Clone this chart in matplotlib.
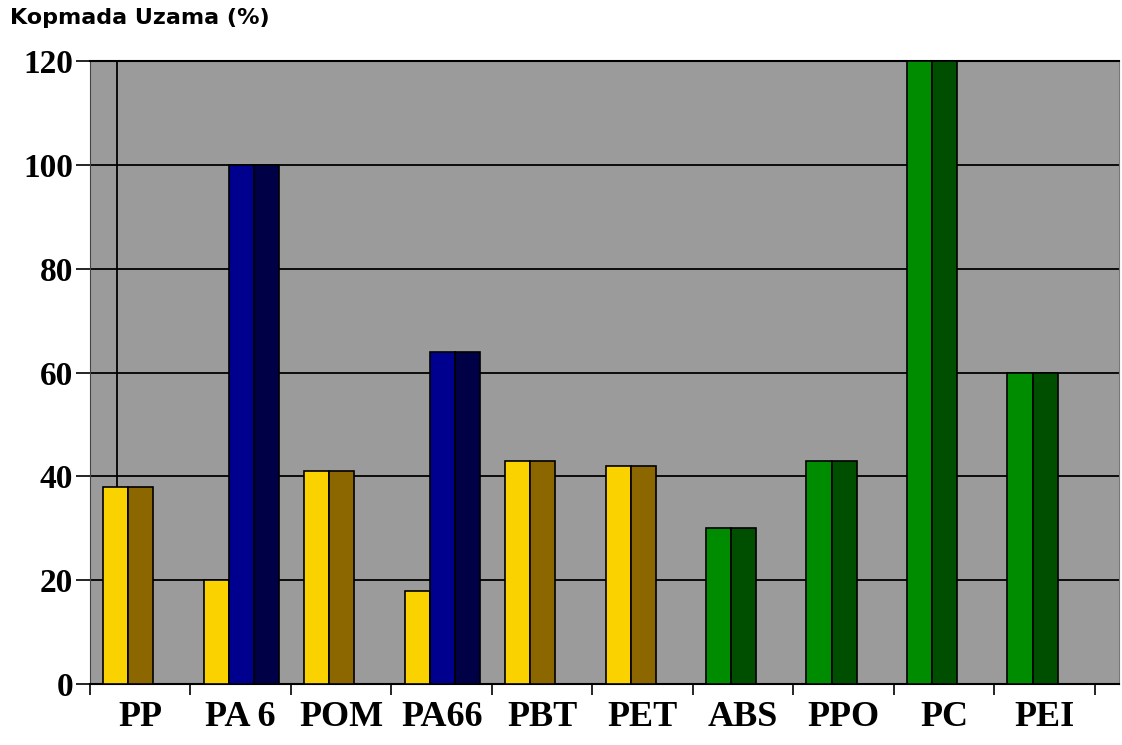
import numpy as np
import matplotlib.pyplot as plt

# Kopmada uzama (%) - malzemelere göre
malzeme = ["PP", "PA 6", "POM", "PA66", "PBT", "PET", "ABS", "PPO", "PC", "PEI"]
uzama = [38, 20, 41, 18, 43, 42, 30, 43, 120, 60]
uzama_ek = [0, 100, 0, 64, 0, 0, 0, 0, 0, 0]
grup = ["sari", "sari", "sari", "sari", "sari", "sari",
        "yesil", "yesil", "yesil", "yesil"]

# ön yüz / yan yüz renkleri
renk = {
    "sari": ("#f9d200", "#8c6700"),
    "yesil": ("#008c00", "#004f00"),
    "mavi": ("#00008e", "#000046"),
}

fig = plt.figure(figsize=(11.22, 7.45), dpi=100)
ax = fig.add_axes([90 / 1122, 61 / 745, 1029 / 1122, 623 / 745])
ax.set_facecolor("#9b9b9b")

x = np.arange(len(malzeme))
w = 0.25
sol = x - 0.37

for i in range(len(malzeme)):
    on, yan = renk[grup[i]]
    ax.bar(sol[i], uzama[i], width=w, align="edge", color=on,
           edgecolor="black", linewidth=1.2, zorder=3)
    ax.bar(sol[i] + w, uzama[i], width=w, align="edge", color=yan,
           edgecolor="black", linewidth=1.2, zorder=3)
    if uzama_ek[i] > 0:
        on, yan = renk["mavi"]
        ax.bar(sol[i] + w, uzama_ek[i], width=w, align="edge", color=on,
               edgecolor="black", linewidth=1.2, zorder=4)
        ax.bar(sol[i] + 2 * w, uzama_ek[i], width=w, align="edge", color=yan,
               edgecolor="black", linewidth=1.2, zorder=4)

ax.axvline(-0.23, color="black", linewidth=1.3, zorder=2)

ax.set_xlim(-0.5, 9.74)
ax.set_ylim(0, 120)
ax.yaxis.grid(True, color="black", linewidth=1.3)
ax.set_axisbelow(True)

ax.set_yticks(range(0, 121, 20))
ax.set_xticks(x, malzeme)
ax.set_xticks(np.arange(-0.5, 10, 1), minor=True)
ax.tick_params(axis="y", length=10, width=1.2, pad=2, labelsize=24)
ax.tick_params(axis="x", which="major", length=0, pad=12, labelsize=26)
ax.tick_params(axis="x", which="minor", length=8, width=1.2)
for t in ax.get_xticklabels() + ax.get_yticklabels():
    t.set_family("Liberation Serif")
    t.set_fontweight("bold")

ax.spines["top"].set_color("black")
ax.spines["top"].set_linewidth(1.5)
ax.spines["bottom"].set_linewidth(1.5)
ax.spines["left"].set_color("#444444")
ax.spines["right"].set_color("#777777")

fig.text(10 / 1122, 1 - 18 / 745, "Kopmada Uzama (%)", fontsize=16,
         fontweight="bold", family="DejaVu Sans", va="center")

fig.savefig("out.png", dpi=100)
